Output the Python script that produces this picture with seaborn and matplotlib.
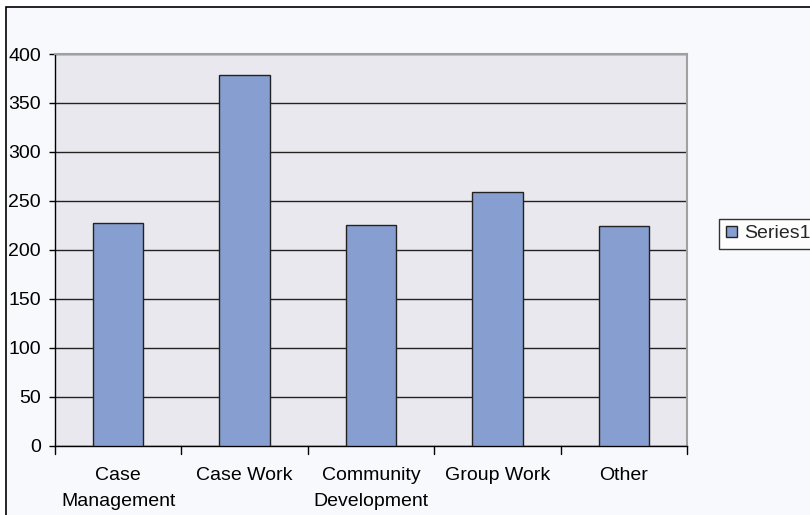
import matplotlib
matplotlib.use("Agg")
import matplotlib.pyplot as plt
import seaborn as sns
import pandas as pd
from matplotlib.patches import Rectangle

categories = ["Case\nManagement", "Case Work", "Community\nDevelopment", "Group Work", "Other"]
values = [227, 379, 225, 259, 224]
series_name = "Series1"
yticks = [0, 50, 100, 150, 200, 250, 300, 350, 400]

df = pd.DataFrame({"category": categories, "value": values, "series": series_name})

sns.set_theme(style="white")
plt.rcParams["font.family"] = ["Liberation Sans", "DejaVu Sans"]

FS = 14

fig = plt.figure(figsize=(8.1, 5.15), dpi=100)
fig.patch.set_facecolor("white")
# outer chart area border
border = Rectangle((6 / 810, -0.01), 1.02, (515 - 7) / 515 + 0.01,
                   transform=fig.transFigure, facecolor="#F8F9FD",
                   edgecolor="black", linewidth=1.2, zorder=-5)
fig.add_artist(border)

ax = fig.add_axes([55 / 810, (515 - 445.7) / 515, (687 - 55) / 810, (445.7 - 54) / 515])
ax.set_zorder(1)
ax.set_facecolor("#E8E8EE")

sns.barplot(data=df, x="category", y="value", hue="series", ax=ax,
            palette=["#869FD0"], width=0.4, edgecolor="#222222", linewidth=1.0,
            saturation=1, zorder=3)

ax.set_ylim(0, 400)
ax.set_xlim(-0.5, len(categories) - 0.5)
ax.set_yticks(yticks)
ax.set_yticklabels([str(v) for v in yticks], fontsize=FS, color="black")
ax.yaxis.grid(True, color="#222222", linewidth=1.0, zorder=1)
ax.set_axisbelow(True)
ax.set_xlabel("")
ax.set_ylabel("")

# x ticks at category boundaries
ax.set_xticks([i for i in range(len(categories))])
ax.set_xticklabels(categories, fontsize=FS, color="black", linespacing=1.75)
ax.tick_params(axis="x", length=0, pad=15)
for b in [i - 0.5 for i in range(len(categories) + 1)]:
    ax.plot([b, b], [0, -0.02], transform=ax.get_xaxis_transform(), color="black",
            linewidth=1.0, clip_on=False)
ax.tick_params(axis="y", length=4.5, width=1.0, color="black", direction="out", pad=5.5, left=True)

for side in ["top", "right"]:
    ax.spines[side].set_color("#A0A0A0")
    ax.spines[side].set_linewidth(1.5)
for side in ["left", "bottom"]:
    ax.spines[side].set_color("black")
    ax.spines[side].set_linewidth(1.0)

leg = ax.legend(loc="center left", bbox_to_anchor=((719 - 55) / (687 - 55), (515 - 234 - 69.3) / (445.7 - 54)),
                frameon=True, fontsize=FS, handlelength=0.55, handleheight=0.55,
                handletextpad=0.4, borderpad=0.35, borderaxespad=0, fancybox=False)
leg.get_frame().set_edgecolor("black")
leg.get_frame().set_facecolor("white")
leg.get_frame().set_linewidth(1.0)

fig.savefig("out.png", dpi=100)
